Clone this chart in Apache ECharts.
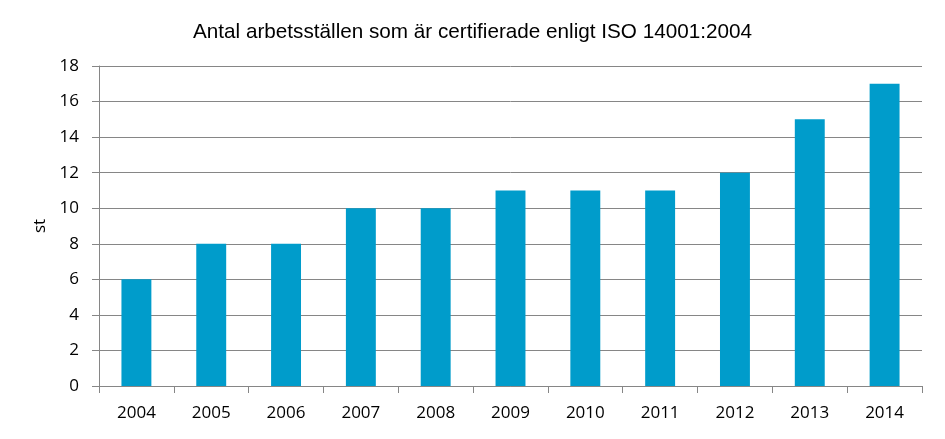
<!DOCTYPE html>
<html><head><meta charset="utf-8">
<script src="https://cdn.jsdelivr.net/npm/echarts@6/dist/echarts.min.js"></script>
<style>html,body{margin:0;padding:0;background:#fff}#c{width:945px;height:439px}</style>
</head><body><div id="c"></div>
<script>
const categories = ['2004','2005','2006','2007','2008','2009','2010','2011','2012','2013','2014'];
const values = [6, 8, 8, 10, 10, 11, 11, 11, 12, 15, 17];
const yTicks = {min: 0, max: 18, interval: 2};
const title = 'Antal arbetsställen som är certifierade enligt ISO 14001:2004';
const yName = 'st';

const chart = echarts.init(document.getElementById('c'));
chart.setOption({
  animation: false,
  backgroundColor: '#fff',
  title: {
    text: title, left: 'center', top: 17,
    textStyle: {fontFamily: 'Liberation Sans', fontWeight: 'normal', fontSize: 20.7, color: '#000'}
  },
  grid: {left: 99, right: 23, top: 66, bottom: 53, containLabel: false},
  xAxis: {
    type: 'category', data: categories,
    axisLine: {lineStyle: {color: '#868686', width: 1}},
    axisTick: {show: true, alignWithLabel: false, length: 7, lineStyle: {color: '#868686'}},
    axisLabel: {fontFamily: 'Open Sans', fontSize: 17, color: '#000', margin: 19}
  },
  yAxis: {
    type: 'value', min: yTicks.min, max: yTicks.max, interval: yTicks.interval,
    name: yName, nameLocation: 'middle', nameGap: 50, nameRotate: 90,
    nameTextStyle: {fontFamily: 'Open Sans', fontSize: 17, color: '#000'},
    axisLine: {show: true, lineStyle: {color: '#868686', width: 1}},
    axisTick: {show: true, length: 7, lineStyle: {color: '#868686'}},
    splitLine: {lineStyle: {color: '#868686', width: 1}},
    axisLabel: {fontFamily: 'Open Sans', fontSize: 17, color: '#000', margin: 20}
  },
  series: [{
    type: 'bar', data: values, barWidth: '40%',
    itemStyle: {color: '#009CCB'}
  }]
});
</script></body></html>
